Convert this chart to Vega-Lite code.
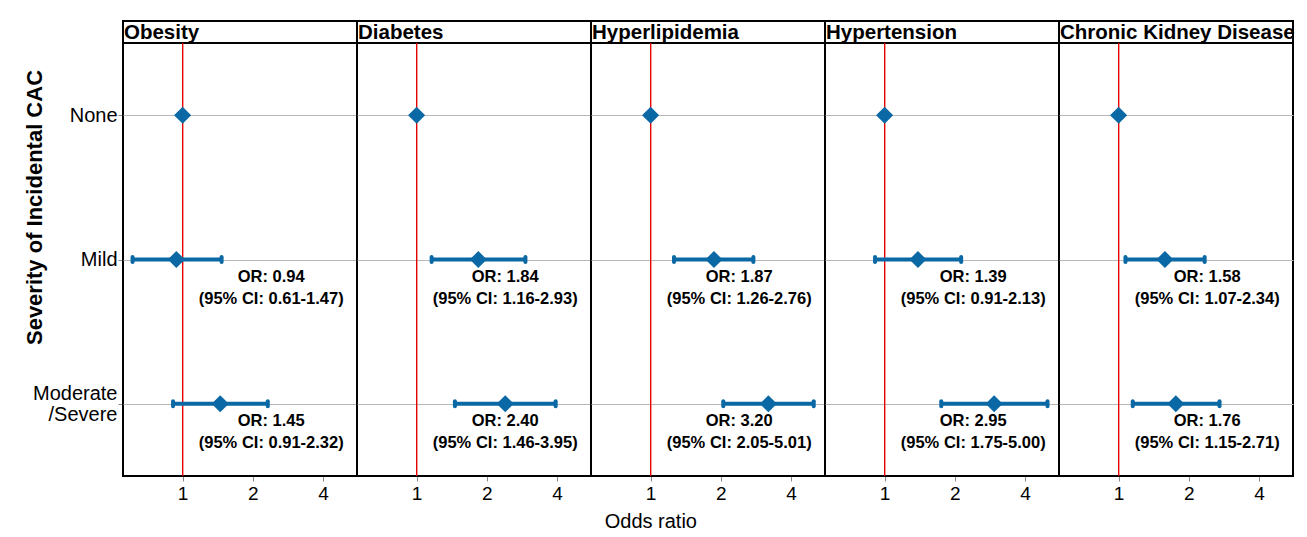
{
  "$schema": "https://vega.github.io/schema/vega-lite/v6.json",
  "autosize": {"type": "pad"},
  "padding": {"left": 23, "top": 20, "right": 10, "bottom": 5},
  "background": "white",
  "bounds": "flush",
  "spacing": 0,
  "datasets": {
    "panels": [
      {"disease": "Obesity"},
      {"disease": "Diabetes"},
      {"disease": "Hyperlipidemia"},
      {"disease": "Hypertension"},
      {"disease": "Chronic Kidney Disease"}
    ],
    "or": [
      {"disease": "Obesity", "severity": "None", "or": 1},
      {"disease": "Obesity", "severity": "Mild", "or": 0.94, "lo": 0.61, "hi": 1.47, "label": ["OR: 0.94", "(95% CI: 0.61-1.47)"]},
      {"disease": "Obesity", "severity": "Moderate/Severe", "or": 1.45, "lo": 0.91, "hi": 2.32, "label": ["OR: 1.45", "(95% CI: 0.91-2.32)"]},
      {"disease": "Diabetes", "severity": "None", "or": 1},
      {"disease": "Diabetes", "severity": "Mild", "or": 1.84, "lo": 1.16, "hi": 2.93, "label": ["OR: 1.84", "(95% CI: 1.16-2.93)"]},
      {"disease": "Diabetes", "severity": "Moderate/Severe", "or": 2.40, "lo": 1.46, "hi": 3.95, "label": ["OR: 2.40", "(95% CI: 1.46-3.95)"]},
      {"disease": "Hyperlipidemia", "severity": "None", "or": 1},
      {"disease": "Hyperlipidemia", "severity": "Mild", "or": 1.87, "lo": 1.26, "hi": 2.76, "label": ["OR: 1.87", "(95% CI: 1.26-2.76)"]},
      {"disease": "Hyperlipidemia", "severity": "Moderate/Severe", "or": 3.20, "lo": 2.05, "hi": 5.01, "label": ["OR: 3.20", "(95% CI: 2.05-5.01)"]},
      {"disease": "Hypertension", "severity": "None", "or": 1},
      {"disease": "Hypertension", "severity": "Mild", "or": 1.39, "lo": 0.91, "hi": 2.13, "label": ["OR: 1.39", "(95% CI: 0.91-2.13)"]},
      {"disease": "Hypertension", "severity": "Moderate/Severe", "or": 2.95, "lo": 1.75, "hi": 5.00, "label": ["OR: 2.95", "(95% CI: 1.75-5.00)"]},
      {"disease": "Chronic Kidney Disease", "severity": "None", "or": 1},
      {"disease": "Chronic Kidney Disease", "severity": "Mild", "or": 1.58, "lo": 1.07, "hi": 2.34, "label": ["OR: 1.58", "(95% CI: 1.07-2.34)"]},
      {"disease": "Chronic Kidney Disease", "severity": "Moderate/Severe", "or": 1.76, "lo": 1.15, "hi": 2.71, "label": ["OR: 1.76", "(95% CI: 1.15-2.71)"]}
    ]
  },
  "title": {
    "text": "Odds ratio",
    "orient": "bottom",
    "anchor": "middle",
    "frame": "bounds",
    "font": "Liberation Sans",
    "fontSize": 20,
    "fontWeight": "normal",
    "color": "black",
    "offset": 9,
    "dx": -8
  },
  "vconcat": [
    {
      "data": {"name": "panels"},
      "width": 1170,
      "height": 22,
      "view": {"stroke": null},
      "layer": [
        {
          "mark": {"type": "rect", "fill": "white", "stroke": "black", "strokeWidth": 2},
          "encoding": {
            "x": {
              "field": "disease",
              "type": "nominal",
              "sort": ["Obesity", "Diabetes", "Hyperlipidemia", "Hypertension", "Chronic Kidney Disease"],
              "scale": {"type": "band", "paddingInner": 0, "paddingOuter": 0},
              "axis": null
            }
          }
        },
        {
          "mark": {"type": "text", "align": "left", "baseline": "middle", "dx": 1, "dy": 1, "font": "Liberation Sans", "fontSize": 20.5, "fontWeight": "bold", "color": "black"},
          "encoding": {
            "x": {
              "field": "disease",
              "type": "nominal",
              "sort": ["Obesity", "Diabetes", "Hyperlipidemia", "Hypertension", "Chronic Kidney Disease"],
              "bandPosition": 0,
              "axis": null
            },
            "text": {"field": "disease", "type": "nominal"}
          }
        }
      ]
    },
    {
      "data": {"name": "or"},
      "facet": {
        "column": {
          "field": "disease",
          "sort": ["Obesity", "Diabetes", "Hyperlipidemia", "Hypertension", "Chronic Kidney Disease"],
          "header": null
        }
      },
      "spacing": 0,
      "bounds": "flush",
      "spec": {
        "width": 234,
        "height": 433,
        "layer": [
          {
            "mark": {"type": "rule", "color": "#e60000", "strokeWidth": 1.1},
            "encoding": {
              "x": {"datum": 1, "type": "quantitative", "title": null}
            }
          },
          {
            "transform": [{"filter": "datum.lo != null"}],
            "mark": {"type": "rule", "color": "#0a68a5", "strokeWidth": 4},
            "encoding": {
              "x": {"field": "lo", "type": "quantitative", "title": null},
              "x2": {"field": "hi"},
              "y": {"field": "severity", "type": "nominal", "sort": ["None", "Mild", "Moderate/Severe"], "title": "Severity of Incidental CAC"}
            }
          },
          {
            "transform": [{"filter": "datum.lo != null"}],
            "mark": {"type": "tick", "color": "#0a68a5", "size": 9, "thickness": 4, "opacity": 1, "cornerRadius": 2},
            "encoding": {
              "x": {"field": "lo", "type": "quantitative", "title": null},
              "y": {"field": "severity", "type": "nominal", "sort": ["None", "Mild", "Moderate/Severe"], "title": "Severity of Incidental CAC"}
            }
          },
          {
            "transform": [{"filter": "datum.hi != null"}],
            "mark": {"type": "tick", "color": "#0a68a5", "size": 9, "thickness": 4, "opacity": 1, "cornerRadius": 2},
            "encoding": {
              "x": {"field": "hi", "type": "quantitative", "title": null},
              "y": {"field": "severity", "type": "nominal", "sort": ["None", "Mild", "Moderate/Severe"], "title": "Severity of Incidental CAC"}
            }
          },
          {
            "mark": {"type": "point", "shape": "diamond", "filled": true, "size": 290, "color": "#0a68a5", "opacity": 1},
            "encoding": {
              "x": {
                "field": "or",
                "type": "quantitative",
                "title": null,
                "scale": {"type": "log", "domain": [0.555, 5.6], "nice": false},
                "axis": {"values": [1, 2, 4], "title": null, "grid": false}
              },
              "y": {
                "field": "severity",
                "type": "nominal",
                "sort": ["None", "Mild", "Moderate/Severe"],
                "scale": {"type": "point", "padding": 0.5},
                "title": "Severity of Incidental CAC",
                "axis": {
                  "labelExpr": "datum.value === 'Moderate/Severe' ? ['Moderate', '/Severe'] : datum.label",
                  "labelOffset": {"condition": {"test": "datum.value === 'Moderate/Severe'", "value": -10}, "value": 0},
                  "grid": true
                }
              }
            }
          },
          {
            "transform": [{"filter": "datum.label != null"}],
            "mark": {"type": "text", "align": "center", "baseline": "middle", "dy": 17, "lineHeight": 22, "font": "Liberation Sans", "fontSize": 16.5, "fontWeight": "bold", "color": "black"},
            "encoding": {
              "x": {"datum": 2.4, "type": "quantitative", "title": null},
              "y": {"field": "severity", "type": "nominal", "sort": ["None", "Mild", "Moderate/Severe"], "title": "Severity of Incidental CAC"},
              "text": {"field": "label", "type": "nominal"}
            }
          }
        ]
      }
    }
  ],
  "config": {
    "font": "Liberation Sans",
    "view": {"stroke": "black", "strokeWidth": 2},
    "axisX": {
      "labelFont": "Liberation Sans",
      "labelFontSize": 19,
      "labelColor": "black",
      "tickColor": "#888888",
      "domainColor": "#888888",
      "tickSize": 5,
      "labelPadding": 3,
      "grid": false
    },
    "axisY": {
      "labelFont": "Liberation Sans",
      "labelFontSize": 20,
      "labelColor": "black",
      "labelPadding": 1,
      "labelLineHeight": 21,
      "tickColor": "#888888",
      "domainColor": "#888888",
      "tickSize": 5,
      "gridColor": "#b8b8b8",
      "gridWidth": 1,
      "titleFont": "Liberation Sans",
      "titleFontSize": 22,
      "titleFontWeight": "bold",
      "titleColor": "black",
      "titleX": -89,
      "titleY": 164,
      "titleAngle": -90,
      "titleAlign": "center",
      "titleBaseline": "middle"
    }
  }
}
